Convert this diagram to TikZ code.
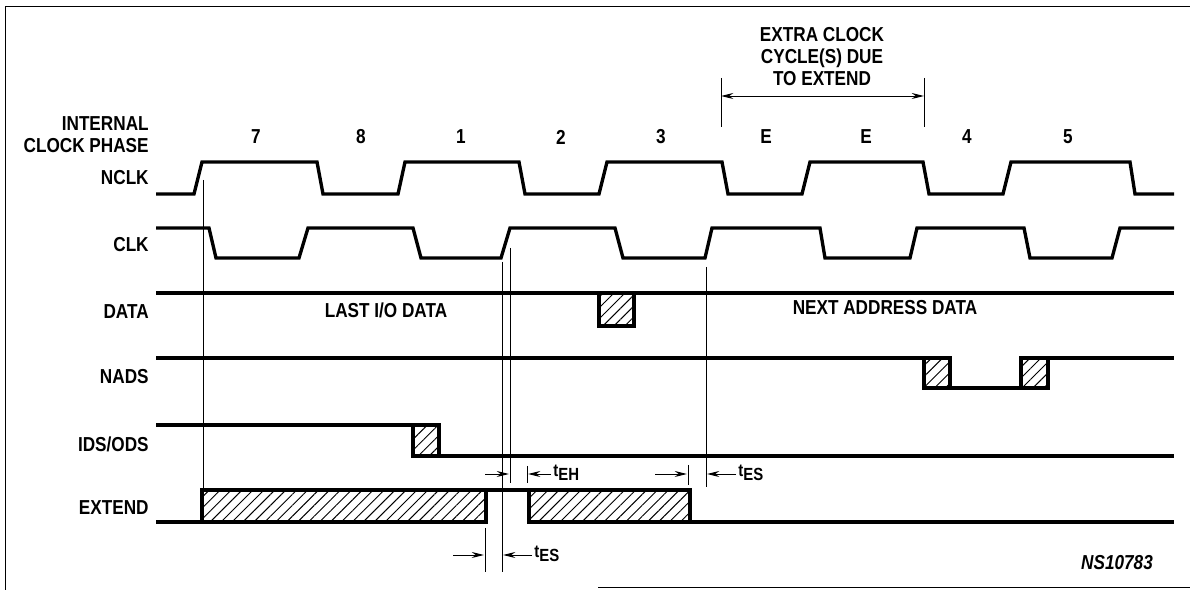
\documentclass[tikz,border=0pt]{standalone}
\usepackage{fontspec}
\newfontfamily\tdfont{Liberation Sans}[FakeStretch=0.85]
\usetikzlibrary{arrows.meta,patterns.meta}

\begin{document}
\begin{tikzpicture}[x=0.02cm,y=-0.02cm,>={Stealth[length=7pt,width=3.4pt]},
  sig/.style={line width=1.9pt,line join=miter},
  hatchbox/.style={line width=1.9pt,pattern={Lines[angle=45,distance=4.4pt,line width=0.55pt]}},
  guide/.style={line width=0.55pt},
  lbl/.style={font={\tdfont\bfseries\fontsize{11.5}{12.5}\selectfont},inner sep=0pt},
  tlbl/.style={font={\tdfont\bfseries\fontsize{10}{11}\selectfont},inner sep=0pt,anchor=west}]
  \useasboundingbox (0,0) rectangle (1190,590);
  \draw[guide] (5,590)--(5,6)--(1190,6);
  \draw[guide] (598,587)--(1190,587);

  \node[lbl,anchor=east,align=right] (phase) at (149,135) {INTERNAL\\CLOCK PHASE};
  \node[lbl,anchor=east] (nclk) at (149,178) {NCLK};
  \node[lbl,anchor=east] (clk) at (149,245) {CLK};
  \node[lbl,anchor=east] (data) at (149,312) {DATA};
  \node[lbl,anchor=east] (nads) at (149,377) {NADS};
  \node[lbl,anchor=east] (idsods) at (149,444) {IDS/ODS};
  \node[lbl,anchor=east] (extend) at (149,508) {EXTEND};

  \foreach \x/\p [count=\i] in {256/7,361/8,461/1,561/2,661/3,766/E,866/E,967/4,1068/5}
    \node[lbl] (ph\i) at (\x,137) {\p};

  \draw[sig] (156,194)--(194,194)--(202,162)--(317,162)--(323,194)--(398,194)--(405,162)
    --(519,162)--(525,194)--(599,194)--(607,162)--(722,162)--(728,194)--(802,194)
    --(810,162)--(923,162)--(929,194)--(1003,194)--(1011,162)--(1130,162)--(1135,194)--(1174,194);
  \draw[sig] (156,228)--(209,228)--(216,258)--(299,258)--(308,228)--(413,228)--(421,258)
    --(501,258)--(510,228)--(615,228)--(623,258)--(705,258)--(712,228)--(820,228)
    --(825,258)--(910,258)--(917,228)--(1024,228)--(1030,258)--(1112,258)--(1120,228)--(1174,228);

  \draw[sig] (156,293)--(1174,293);
  \draw[hatchbox] (599,293) rectangle (634,326);
  \node[lbl] (lastio) at (386,310) {LAST I/O DATA};
  \node[lbl] (nextad) at (885,308) {NEXT ADDRESS DATA};

  \draw[sig] (156,358)--(924,358);
  \draw[hatchbox] (924,358) rectangle (950,388);
  \draw[sig] (950,388)--(1021,388);
  \draw[hatchbox] (1021,358) rectangle (1048,388);
  \draw[sig] (1048,358)--(1174,358);

  \draw[sig] (156,425)--(413,425);
  \draw[hatchbox] (413,425) rectangle (439,456);
  \draw[sig] (439,456)--(1174,456);

  \draw[sig] (156,522)--(202,522);
  \draw[hatchbox] (202,490) rectangle (486,522);
  \draw[sig] (486,490)--(529,490);
  \draw[hatchbox] (529,490) rectangle (690,522);
  \draw[sig] (690,522)--(1174,522);

  \draw[guide] (203,180)--(203,488);
  \draw[guide] (502,262)--(502,572);
  \draw[guide] (510,248)--(510,483);
  \draw[guide] (706,267)--(706,487);
  \draw[guide] (485,528)--(485,572);
  \draw[guide] (527,466)--(527,483);
  \draw[guide] (688,465)--(688,485);

  \coordinate (exl) at (721,96);
  \coordinate (exr) at (924,96);
  \draw[guide] (721,78)--(721,127);
  \draw[guide] (924,78)--(924,127);
  \draw[guide,<->] (exl)--(exr);
  \node[lbl,align=center] (extra) at (822,57) {EXTRA CLOCK\\CYCLE(S) DUE\\TO EXTEND};

  \coordinate (ha) at (485,474);
  \coordinate (hb) at (509,474);
  \coordinate (hc) at (551,474);
  \coordinate (hd) at (528,474);
  \coordinate (sa) at (655,474);
  \coordinate (sb) at (687,474);
  \coordinate (sc) at (736,474);
  \coordinate (sd) at (707,474);
  \coordinate (ba) at (453,555);
  \coordinate (bb) at (484,555);
  \coordinate (bc) at (532,555);
  \coordinate (bd) at (503,555);
  \draw[guide,->] (ha)--(hb);
  \draw[guide,->] (hc)--(hd);
  \draw[guide,->] (sa)--(sb);
  \draw[guide,->] (sc)--(sd);
  \draw[guide,->] (ba)--(bb);
  \draw[guide,->] (bc)--(bd);
  \node[tlbl] (teh) at (553,473) {t\raisebox{-2pt}{EH}};
  \node[tlbl] (tes1) at (738,473) {t\raisebox{-2pt}{ES}};
  \node[tlbl] (tes2) at (534,554) {t\raisebox{-2pt}{ES}};

  \node[lbl,font={\tdfont\bfseries\itshape\fontsize{11.5}{12.5}\selectfont}] (fig) at (1117,563) {NS10783};
\end{tikzpicture}
\end{document}
